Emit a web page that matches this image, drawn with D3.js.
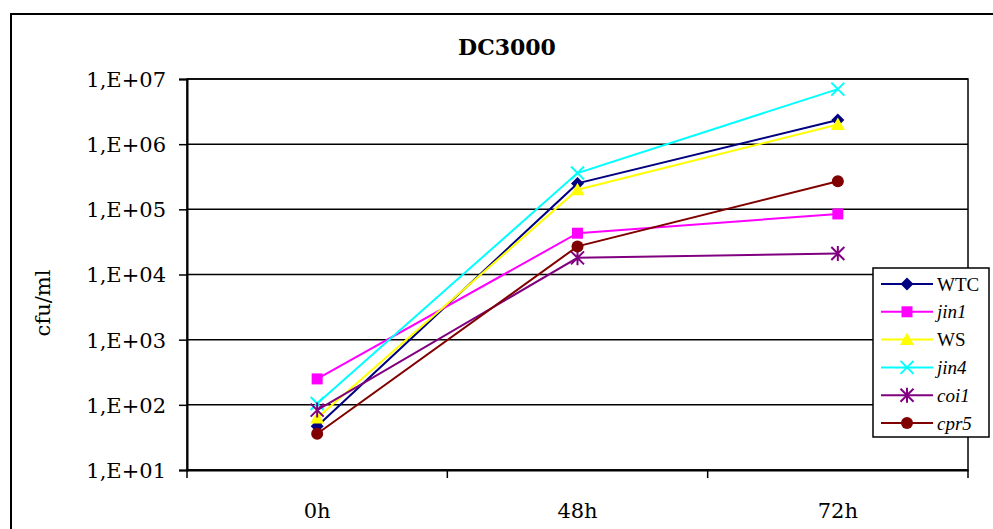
<!DOCTYPE html>
<html>
<head>
<meta charset="utf-8">
<script src="https://cdn.jsdelivr.net/npm/d3@7"></script>
<style>
  body { margin: 0; background: #fff; }
  svg { display: block; }
  .tick-lbl { font-family: "DejaVu Serif", serif; font-size: 21px; fill: #000; }
</style>
</head>
<body>
<div id="chart"></div>
<script>
// data
var categories = ["0h", "48h", "72h"];
var wtc  = [47, 2.5e5, 2.35e6];
var jin1 = [250, 4.3e4, 8.5e4];
var ws   = [63, 2.0e5, 2.0e6];
var jin4 = [105, 3.6e5, 7.0e6];
var coi1 = [83, 1.8e4, 2.1e4];
var cpr5 = [36, 2.7e4, 2.7e5];
var yTicks = [1e1, 1e2, 1e3, 1e4, 1e5, 1e6, 1e7];
var yTickLabels = ["1,E+01", "1,E+02", "1,E+03", "1,E+04", "1,E+05", "1,E+06", "1,E+07"];

var series = [
  { name: "WTC",  italic: false, values: wtc,  color: "#000080", marker: "diamond" },
  { name: "jin1", italic: true,  values: jin1, color: "#ff00ff", marker: "square" },
  { name: "WS",   italic: false, values: ws,   color: "#ffff00", marker: "triangle" },
  { name: "jin4", italic: true,  values: jin4, color: "#00ffff", marker: "x" },
  { name: "coi1", italic: true,  values: coi1, color: "#800080", marker: "star" },
  { name: "cpr5", italic: true,  values: cpr5, color: "#800000", marker: "circle" }
];

var W = 993, H = 529;
var plot = { left: 187, top: 79, right: 968, bottom: 470 };

var svg = d3.select("#chart").append("svg")
  .attr("width", W)
  .attr("height", H);

// outer chart frame (runs off the page at right and bottom)
svg.append("rect")
  .attr("x", 11).attr("y", 14)
  .attr("width", 1000).attr("height", 600)
  .attr("fill", "#fff")
  .attr("stroke", "#000").attr("stroke-width", 2);

var x = d3.scaleBand().domain(categories).range([plot.left, plot.right]);
var y = d3.scaleLog().domain([1e1, 1e7]).range([plot.bottom, plot.top]);

function cx(i) { return x(categories[i]) + x.bandwidth() / 2; }

// gridlines
svg.append("g")
  .selectAll("line")
  .data(yTicks)
  .enter().append("line")
  .attr("x1", plot.left).attr("x2", plot.right)
  .attr("y1", function(d) { return y(d); })
  .attr("y2", function(d) { return y(d); })
  .attr("stroke", "#000").attr("stroke-width", 1.5);

// plot border
svg.append("rect")
  .attr("x", plot.left).attr("y", plot.top)
  .attr("width", plot.right - plot.left).attr("height", plot.bottom - plot.top)
  .attr("fill", "none").attr("stroke", "#000").attr("stroke-width", 1.5);

// y axis
var yAxis = svg.append("g")
  .attr("transform", "translate(" + plot.left + ",0)")
  .call(d3.axisLeft(y).tickValues(yTicks).tickSize(8).tickPadding(13)
    .tickFormat(function(d) { return yTickLabels[yTicks.indexOf(d)]; }));
yAxis.select(".domain").attr("stroke-width", 2);
yAxis.selectAll(".tick line").attr("stroke-width", 1.5);
yAxis.selectAll("text").attr("class", "tick-lbl").attr("dy", "0.35em");

// x axis: labels centred in bands, ticks on band edges
var xAxis = svg.append("g")
  .attr("transform", "translate(0," + plot.bottom + ")")
  .call(d3.axisBottom(x).tickSize(0).tickPadding(33));
xAxis.select(".domain").attr("stroke-width", 2);
xAxis.selectAll("text").attr("class", "tick-lbl");

var edges = categories.map(function(c) { return x(c); }).concat([x.range()[1]]);
svg.append("g")
  .selectAll("line")
  .data(edges)
  .enter().append("line")
  .attr("x1", function(d) { return d; }).attr("x2", function(d) { return d; })
  .attr("y1", plot.bottom).attr("y2", plot.bottom + 8)
  .attr("stroke", "#000").attr("stroke-width", 1.5);

// title
svg.append("text")
  .attr("x", 507).attr("y", 55)
  .attr("text-anchor", "middle")
  .style("font-family", "'DejaVu Serif', serif")
  .style("font-weight", "bold")
  .style("font-size", "22px")
  .text("DC3000");

// y label
svg.append("text")
  .attr("transform", "translate(50,303) rotate(-90)")
  .attr("text-anchor", "middle")
  .style("font-family", "'DejaVu Serif', serif")
  .style("font-size", "21px")
  .text("cfu/ml");

// markers
function drawMarker(g, type, color, px, py) {
  if (type === "diamond") {
    g.append("path")
      .attr("d", "M" + px + "," + (py - 6.5) + "L" + (px + 6.5) + "," + py + "L" + px + "," + (py + 6.5) + "L" + (px - 6.5) + "," + py + "Z")
      .attr("fill", color);
  } else if (type === "square") {
    g.append("rect").attr("x", px - 5.5).attr("y", py - 5.5).attr("width", 11).attr("height", 11).attr("fill", color);
  } else if (type === "triangle") {
    g.append("path")
      .attr("d", "M" + px + "," + (py - 7) + "L" + (px + 7) + "," + (py + 5.5) + "L" + (px - 7) + "," + (py + 5.5) + "Z")
      .attr("fill", color);
  } else if (type === "x") {
    g.append("path")
      .attr("d", "M" + (px - 6.5) + "," + (py - 6.5) + "L" + (px + 6.5) + "," + (py + 6.5) + "M" + (px + 6.5) + "," + (py - 6.5) + "L" + (px - 6.5) + "," + (py + 6.5))
      .attr("stroke", color).attr("stroke-width", 2).attr("fill", "none");
  } else if (type === "star") {
    g.append("path")
      .attr("d", "M" + (px - 6.5) + "," + (py - 6.5) + "L" + (px + 6.5) + "," + (py + 6.5) + "M" + (px + 6.5) + "," + (py - 6.5) + "L" + (px - 6.5) + "," + (py + 6.5) + "M" + px + "," + (py - 7.5) + "L" + px + "," + (py + 7.5))
      .attr("stroke", color).attr("stroke-width", 2).attr("fill", "none");
  } else if (type === "circle") {
    g.append("circle").attr("cx", px).attr("cy", py).attr("r", 6).attr("fill", color);
  }
}

var line = d3.line()
  .x(function(d, i) { return cx(i); })
  .y(function(d) { return y(d); });

series.forEach(function(s) {
  var g = svg.append("g").attr("class", "series");
  g.append("path")
    .attr("d", line(s.values))
    .attr("fill", "none")
    .attr("stroke", s.color)
    .attr("stroke-width", 2);
  s.values.forEach(function(v, i) { drawMarker(g, s.marker, s.color, cx(i), y(v)); });
});

// legend
var lg = svg.append("g").attr("transform", "translate(873,268)");
lg.append("rect")
  .attr("width", 116).attr("height", 169)
  .attr("fill", "#fff").attr("stroke", "#000").attr("stroke-width", 1.5);
series.forEach(function(s, i) {
  var ly = 16 + i * 27.8;
  lg.append("line")
    .attr("x1", 8).attr("x2", 60).attr("y1", ly).attr("y2", ly)
    .attr("stroke", s.color).attr("stroke-width", 2);
  drawMarker(lg, s.marker, s.color, 34, ly);
  lg.append("text")
    .attr("x", 64).attr("y", ly).attr("dy", "0.35em")
    .style("font-family", "'Liberation Serif', 'Times New Roman', serif")
    .style("font-size", "19px")
    .style("font-style", s.italic ? "italic" : "normal")
    .text(s.name);
});
</script>
</body>
</html>
